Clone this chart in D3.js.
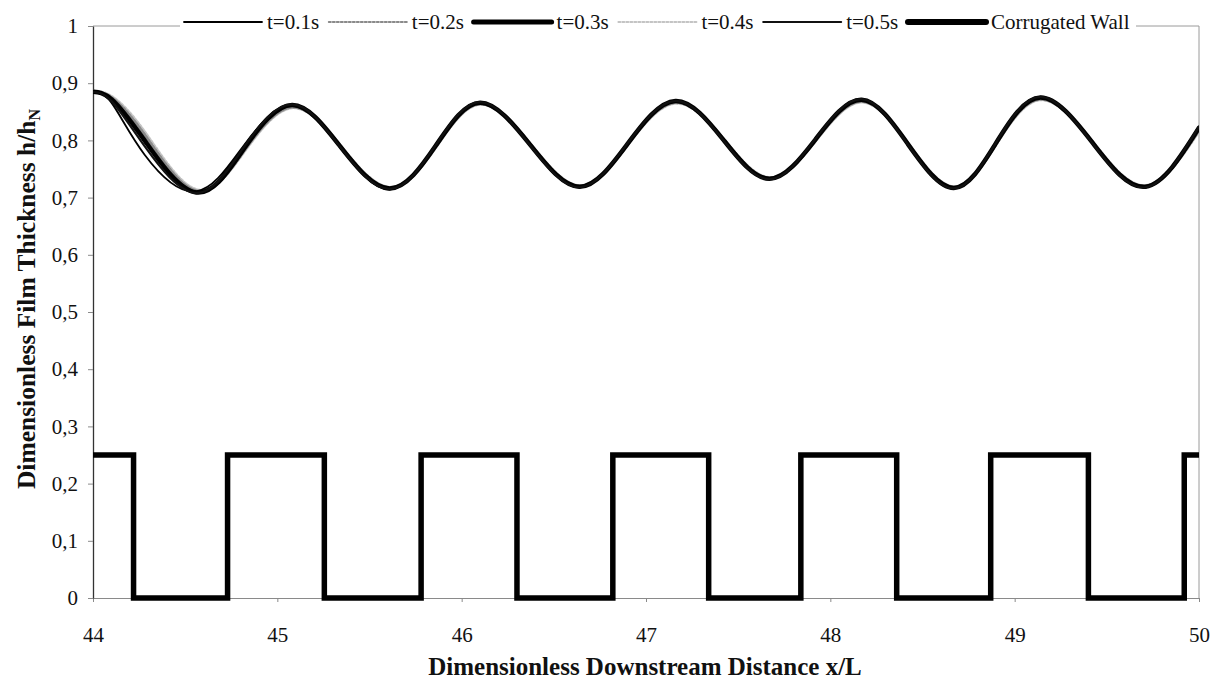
<!DOCTYPE html>
<html>
<head>
<meta charset="utf-8">
<script src="https://cdn.jsdelivr.net/npm/d3@7"></script>
<style>
  html, body { margin: 0; padding: 0; background: #fff; }
  svg { display: block; }
  text { font-family: "Liberation Serif", "Times New Roman", serif; fill: #111; }
</style>
</head>
<body>
<svg id="chart" width="1222" height="685"></svg>
<script>
// Downstream positions (x/L) of the film-thickness profile samples
const xPts = [44.00, 44.10, 44.28, 44.56, 44.82, 45.08, 45.34, 45.61, 45.86, 46.10, 46.37, 46.64,
              46.90, 47.16, 47.42, 47.67, 47.92, 48.17, 48.42, 48.67, 48.90, 49.14, 49.42, 49.71, 50.00];

// Film thickness h/hN at successive times
const hT01 = [0.884, 0.866, 0.775, 0.711, 0.792, 0.861, 0.788, 0.714, 0.792, 0.866, 0.792, 0.718,
              0.795, 0.868, 0.800, 0.733, 0.802, 0.870, 0.794, 0.716, 0.796, 0.874, 0.796, 0.718, 0.822];
const hT02 = [0.886, 0.875, 0.810, 0.712, 0.782, 0.858, 0.791, 0.717, 0.789, 0.864, 0.794, 0.720,
              0.793, 0.866, 0.802, 0.734, 0.800, 0.868, 0.795, 0.718, 0.794, 0.872, 0.798, 0.720, 0.818];
const hT03 = [0.885, 0.872, 0.800, 0.709, 0.786, 0.862, 0.790, 0.716, 0.791, 0.866, 0.793, 0.719,
              0.794, 0.869, 0.801, 0.733, 0.802, 0.871, 0.794, 0.717, 0.796, 0.875, 0.797, 0.719, 0.822];
const hT04 = [0.886, 0.877, 0.815, 0.714, 0.780, 0.857, 0.792, 0.718, 0.788, 0.863, 0.795, 0.721,
              0.792, 0.865, 0.803, 0.735, 0.799, 0.867, 0.796, 0.719, 0.793, 0.871, 0.799, 0.721, 0.816];
const hT05 = [0.885, 0.869, 0.790, 0.708, 0.789, 0.863, 0.789, 0.715, 0.792, 0.867, 0.792, 0.718,
              0.795, 0.869, 0.800, 0.732, 0.803, 0.872, 0.793, 0.716, 0.797, 0.876, 0.796, 0.718, 0.824];

// Corrugated wall: step edges and the level that starts at each edge
const wallX = [44.00, 44.22, 44.73, 45.255, 45.78, 46.30, 46.82, 47.34, 47.84, 48.36, 48.87, 49.40, 49.92, 50.00];
const wallH = [0.25, 0, 0.25, 0, 0.25, 0, 0.25, 0, 0.25, 0, 0.25, 0, 0.25, 0.25];

// Axis ticks
const xTicks = [44, 45, 46, 47, 48, 49, 50];
const xTickLabels = ["44", "45", "46", "47", "48", "49", "50"];
const yTicks = [0, 0.1, 0.2, 0.3, 0.4, 0.5, 0.6, 0.7, 0.8, 0.9, 1];
const yTickLabels = ["0", "0,1", "0,2", "0,3", "0,4", "0,5", "0,6", "0,7", "0,8", "0,9", "1"];

const seriesNames = ["t=0.1s", "t=0.2s", "t=0.3s", "t=0.4s", "t=0.5s", "Corrugated Wall"];

const svg = d3.select("#chart");
const plotL = 93, plotR = 1199, plotT = 26, plotB = 598;

const x = d3.scaleLinear().domain([44, 50]).range([plotL, plotR]);
const y = d3.scaleLinear().domain([0, 1]).range([plotB, plotT]);

// Line styles per series
const styles = {
  "t=0.1s": { stroke: "#000", width: 1.8, dash: null },
  "t=0.2s": { stroke: "#8a8a8a", width: 3, dash: "2,2" },
  "t=0.3s": { stroke: "#000", width: 4.5, dash: null },
  "t=0.4s": { stroke: "#c4c4c4", width: 3, dash: "2,2" },
  "t=0.5s": { stroke: "#111", width: 2.2, dash: null },
  "Corrugated Wall": { stroke: "#000", width: 5.5, dash: null }
};

// Plot frame (light border on top and right)
svg.append("line").attr("x1", plotL).attr("x2", plotR).attr("y1", plotT).attr("y2", plotT)
  .attr("stroke", "#9a9a9a").attr("stroke-width", 1);
svg.append("line").attr("x1", plotR).attr("x2", plotR).attr("y1", plotT).attr("y2", plotB)
  .attr("stroke", "#9a9a9a").attr("stroke-width", 1);

// X axis
const xAxis = d3.axisBottom(x).tickValues(xTicks)
  .tickFormat((d, i) => xTickLabels[i]).tickSize(4).tickSizeOuter(0).tickPadding(25);
const gx = svg.append("g").attr("transform", `translate(0,${plotB})`).call(xAxis);
gx.select(".domain").attr("stroke", "#8a8a8a");
gx.selectAll(".tick line").attr("stroke", "#8a8a8a");
gx.selectAll("text").style("font-size", "21px").attr("fill", "#111");

// Y axis
const yAxis = d3.axisLeft(y).tickValues(yTicks)
  .tickFormat((d, i) => yTickLabels[i]).tickSize(5).tickSizeOuter(0).tickPadding(10);
const gy = svg.append("g").attr("transform", `translate(${plotL},0)`).call(yAxis);
gy.select(".domain").attr("stroke", "#333").attr("stroke-width", 1.3);
gy.selectAll(".tick line").attr("stroke", "#8a8a8a");
gy.selectAll("text").style("font-size", "21px").attr("fill", "#111");

// Clip to plot area
svg.append("defs").append("clipPath").attr("id", "plotClip")
  .append("rect").attr("x", plotL).attr("y", plotT - 4).attr("width", plotR - plotL).attr("height", plotB - plotT + 8);
const plot = svg.append("g").attr("clip-path", "url(#plotClip)");

// Corrugated wall
const wallLine = d3.line().x(d => x(d[0])).y(d => y(d[1])).curve(d3.curveStepAfter);
plot.append("path")
  .datum(wallX.map((v, i) => [v, wallH[i]]))
  .attr("d", wallLine)
  .attr("fill", "none")
  .attr("stroke", styles["Corrugated Wall"].stroke)
  .attr("stroke-width", styles["Corrugated Wall"].width)
  .attr("stroke-linejoin", "miter");

// Film-thickness profiles
const profile = d3.line().x(d => x(d[0])).y(d => y(d[1])).curve(d3.curveNatural);
const profiles = [
  ["t=0.4s", hT04], ["t=0.2s", hT02], ["t=0.3s", hT03], ["t=0.1s", hT01], ["t=0.5s", hT05]
];
profiles.forEach(([name, vals]) => {
  const s = styles[name];
  plot.append("path")
    .datum(xPts.map((v, i) => [v, vals[i]]))
    .attr("d", profile)
    .attr("fill", "none")
    .attr("stroke", s.stroke)
    .attr("stroke-width", s.width)
    .attr("stroke-dasharray", s.dash)
    .attr("stroke-linecap", "round");
});

// Legend across the top of the plot
const legend = svg.append("g");
legend.append("rect").attr("x", 180).attr("y", 10).attr("width", 956).attr("height", 26).attr("fill", "#fff");
const legStart = 184, legStep = 144.8, legSample = 78;
seriesNames.forEach((name, i) => {
  const s = styles[name];
  const x0 = legStart + i * legStep;
  legend.append("line")
    .attr("x1", x0).attr("x2", x0 + legSample).attr("y1", 22).attr("y2", 22)
    .attr("stroke", s.stroke)
    .attr("stroke-width", name === "Corrugated Wall" ? 6 : (name === "t=0.3s" ? 5 : Math.min(s.width, 2)))
    .attr("stroke-dasharray", s.dash)
    .attr("stroke-linecap", "round");
  legend.append("text")
    .attr("x", x0 + legSample + 5).attr("y", 29)
    .style("font-size", "21px")
    .text(name);
});

// Axis titles
svg.append("text")
  .attr("x", 645).attr("y", 675)
  .attr("text-anchor", "middle")
  .style("font-size", "25px").style("font-weight", "bold")
  .text("Dimensionless Downstream Distance x/L");

const yTitle = svg.append("text")
  .attr("transform", "translate(35,299) rotate(-90)")
  .attr("text-anchor", "middle")
  .style("font-size", "25.5px").style("font-weight", "bold");
yTitle.append("tspan").text("Dimensionless Film Thickness h/h");
yTitle.append("tspan").attr("dy", 5).style("font-size", "16px").text("N");
</script>
</body>
</html>
